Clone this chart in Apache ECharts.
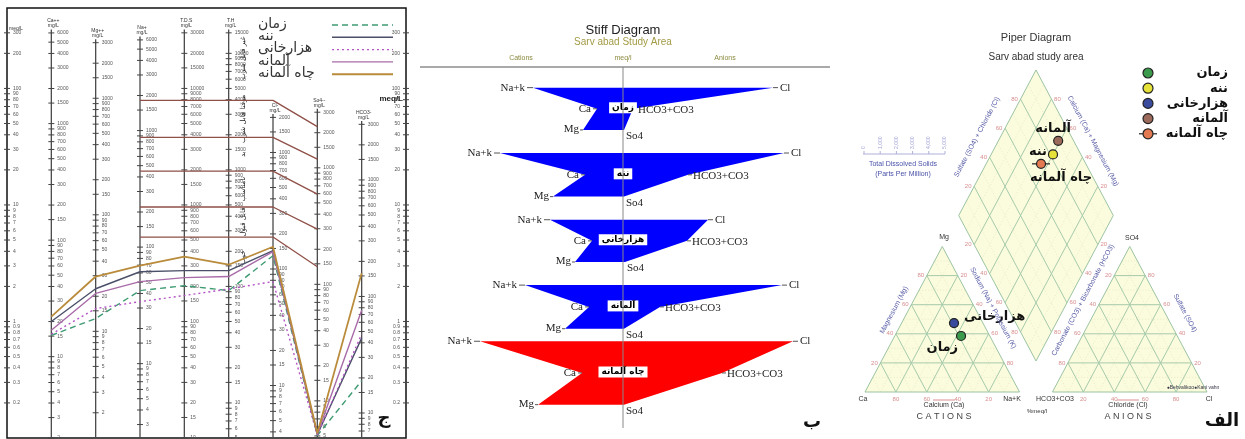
<!DOCTYPE html>
<html>
<head>
<meta charset="utf-8">
<script src="https://cdn.jsdelivr.net/npm/echarts@6.0.0/dist/echarts.min.js"></script>
<style>
html, body { margin: 0; padding: 0; background: #fff; }
#chart { width: 1245px; height: 439px; }
</style>
</head>
<body>
<div id="chart"></div>
<script>
var samples = ['زمان', 'ننه', 'هزارخانی', 'آلمانه', 'چاه آلمانه']

// ج : Schoeller diagram, meq/L read at each column
var schCols = ['Ca', 'Mg', 'Na', 'T.D.S', 'T.H', 'Cl', 'So4', 'HCO3']
var schZaman   = [0.76, 1.06, 1.84, 2.03, 1.84, 3.67, 0.105, 0.31]
var schNaneh   = [1.00, 1.91, 2.67, 2.73, 2.73, 4.05, 0.107, 0.72]
var schHezar   = [0.78, 1.29, 1.48, 1.67, 1.90, 2.20, 0.106, 0.78]
var schAlmaneh = [0.84, 1.74, 2.20, 2.38, 2.43, 3.98, 0.108, 1.25]
var schChah    = [1.10, 2.43, 3.01, 3.60, 3.07, 4.38, 0.110, 2.60]
var schHeads = ['Ca++', 'Mg++', 'Na+', 'T.D.S', 'T.H', 'Cl-', 'So4--', 'HCO3-']
var schFactor = [20.04, 12.15, 23, 100, 50, 35.45, 48, 61]  // mg/L per meq/L
var schTickMin = [2, 2, 3, 10, 5, 4, 5, 7]
var schTickMax = [6000, 3000, 6000, 30000, 15000, 2000, 3000, 3000]
var meqTicks = [0.2, 0.3, 0.4, 0.5, 0.6, 0.7, 0.8, 0.9, 1, 2, 3, 4, 5, 6, 7, 8, 9, 10,
  20, 30, 40, 50, 60, 70, 80, 90, 100, 200, 300]
var mgMantissa = [1, 1.5, 2, 3, 4, 5, 6, 7, 8, 9]
// drinking water class limits, meq/L (Na..Cl, then So4)
var classLeft = [79, 38, 19.5, 9.6, 5.3]
var classRight = [47, 24.7, 12.4, 6.2, 2.95]
var classNames = ['غیر قابل شرب', 'موقتا قابل شرب', 'بد', 'نامناسب', 'قابل قبول', 'خوب']

// ب : Stiff diagram
var stiffNaK  = [9.0, 12.3, 7.3, 9.8, 14.3]
var stiffCa   = [2.6, 3.8, 3.1, 3.4, 4.1]
var stiffMg   = [4.0, 7.0, 4.8, 5.8, 8.5]
var stiffCl   = [15.0, 16.1, 8.5, 15.9, 17.0]
var stiffHCO3 = [1.0, 6.5, 6.4, 3.7, 9.9]
var stiffSO4  = [0.1, 0.1, 0.2, 0.1, 0.1]

// الف : Piper diagram, %meq
var piperTicks = [20, 40, 60, 80]
var pipCatNames = ['زمان', 'هزارخانی']
var pipCa  = [18.6, 18.7]
var pipMg  = [38.5, 47.4]
var pipNaK = [42.9, 33.9]
var pipDmNames = ['ننه', 'آلمانه', 'چاه آلمانه']
var pipDmNaK   = [40.0, 38.7, 35.5]
var pipDmSO4Cl = [82, 90, 71]

var SANS = 'Liberation Sans', FA = 'DejaVu Sans', SERIF = 'Liberation Serif'
var schColors = ['#3f9b73', '#4b5068', '#b455c6', '#a86ba8', '#b98b3b']
var schDash = [[6, 4], 'solid', [2, 3], 'solid', 'solid']
var pipColors = { 'زمان': '#3c9a4c', 'ننه': '#e6e23a', 'هزارخانی': '#3a4a9c', 'آلمانه': '#9c6a5a', 'چاه آلمانه': '#e47a52' }

var chart = echarts.init(document.getElementById('chart'))

// ---------- Schoeller pieces ----------
var schTicks = []
meqTicks.forEach(function (v) {
  schTicks.push({ col: 0, meq: v, text: String(v), side: 1 })
  schTicks.push({ col: 9, meq: v, text: String(v), side: -1 })
})
schFactor.forEach(function (f, i) {
  for (var d = 0; d <= 4; d++) {
    mgMantissa.forEach(function (m) {
      var t = Math.round(m * Math.pow(10, d) * 10) / 10
      if (t >= schTickMin[i] && t <= schTickMax[i]) schTicks.push({ col: i + 1, meq: t / f, text: String(t), side: 1 })
    })
  }
})

function tickRender(params, api) {
  var t = schTicks[params.dataIndex]
  var p = api.coord([t.col, t.meq])
  return { type: 'group', children: [
    { type: 'line', shape: { x1: p[0] - 3, y1: p[1], x2: p[0] + 3, y2: p[1] }, style: { stroke: '#444', lineWidth: 1 } },
    { type: 'text', x: p[0] + 6 * t.side, y: p[1], style: { text: t.text, fontSize: 5, fontFamily: SANS, fill: '#555',
      align: t.side > 0 ? 'left' : 'right', verticalAlign: 'middle' } }
  ] }
}

function columnRender(params, api) {
  var i = params.dataIndex
  var top = schTickMax[i] / schFactor[i] * 1.07
  var p0 = api.coord([i + 1, 0.1]), p1 = api.coord([i + 1, top])
  return { type: 'group', children: [
    { type: 'line', shape: { x1: p0[0], y1: p0[1], x2: p1[0], y2: p1[1] }, style: { stroke: '#4a4a4a', lineWidth: 1.3 } },
    { type: 'text', x: p1[0] + 2, y: p1[1] - 1, style: { text: schHeads[i] + '\nmg/L', fontSize: 5, lineHeight: 5,
      fontFamily: SANS, fill: '#333', align: 'center', verticalAlign: 'bottom' } }
  ] }
}

var classMid = []
classNames.forEach(function (n, i) {
  if (i === 0) classMid.push(classLeft[0] * 2.3)
  else if (i === classNames.length - 1) classMid.push(classLeft[i - 1] / 1.5)
  else classMid.push(Math.sqrt(classLeft[i - 1] * classLeft[i]))
})
function zoneRender(params, api) {
  var i = params.dataIndex
  var p = api.coord([5.33, classMid[i]])
  return { type: 'text', x: p[0], y: p[1], rotation: Math.PI / 2,
    style: { text: classNames[i], fontSize: 7, fontFamily: FA, fill: '#222', align: 'center', verticalAlign: 'middle' } }
}

var series = []
series.push({ type: 'custom', xAxisIndex: 0, yAxisIndex: 0, renderItem: columnRender, silent: true,
  data: schCols.map(function (c, i) { return [i + 1, 1] }) })
series.push({ type: 'custom', xAxisIndex: 0, yAxisIndex: 0, renderItem: tickRender, silent: true,
  data: schTicks.map(function (t) { return [t.col, t.meq] }) })
series.push({ type: 'custom', xAxisIndex: 0, yAxisIndex: 0, renderItem: zoneRender, silent: true,
  data: classNames.map(function (n, i) { return [5.33, classMid[i]] }) })
classLeft.forEach(function (v, i) {
  series.push({ type: 'line', xAxisIndex: 0, yAxisIndex: 0, symbol: 'none', silent: true, z: 3,
    lineStyle: { color: '#8f5048', width: 1.3 }, data: [[3, v], [6, v], [7, classRight[i]]] })
})
var schValues = [schZaman, schNaneh, schHezar, schAlmaneh, schChah]
samples.forEach(function (name, k) {
  series.push({ name: name, type: 'line', xAxisIndex: 0, yAxisIndex: 0, symbol: 'none', z: 5,
    lineStyle: { color: schColors[k], width: k === 4 ? 1.8 : 1.4, type: schDash[k] },
    data: schValues[k].map(function (v, i) { return [i + 1, v] }) })
})

// ---------- Stiff ----------
var stiffHalf = [0.32, 0.33, 0.32, 0.33, 0.48]
function stiffRender(params, api) {
  var i = params.dataIndex, hh = stiffHalf[i]
  function c(x, y) { return api.coord([x, y]) }
  var pNa = c(-stiffNaK[i], i - hh), pCl = c(stiffCl[i], i - hh)
  var pH = c(stiffHCO3[i], i), pCa = c(-stiffCa[i], i)
  var pS = c(stiffSO4[i], i + hh), pMg = c(-stiffMg[i], i + hh)
  var pC = c(0, i)
  function t(p, dx, dy, s, align) {
    return { type: 'text', x: p[0] + dx, y: p[1] + dy, style: { text: s, fontSize: 11, fontFamily: SERIF, fill: '#222', align: align, verticalAlign: 'middle' } }
  }
  function dash(p, dx) { return { type: 'line', shape: { x1: p[0], y1: p[1], x2: p[0] + dx, y2: p[1] }, style: { stroke: '#555', lineWidth: 1 } } }
  return { type: 'group', children: [
    { type: 'polygon', shape: { points: [pNa, pCl, pH, pS, pMg, pCa] }, style: { fill: i === 4 ? '#ff0000' : '#0000ff' } },
    dash(pNa, -6), dash(pCl, 5), dash(pCa, -4), dash(pH, 4), dash(pMg, -3),
    t(pNa, -8, 0, 'Na+k', 'right'), t(pCl, 7, 0, 'Cl', 'left'), t(pCa, -6, 0, 'Ca', 'right'),
    t(pH, 5, 1, 'HCO3+CO3', 'left'), t(pMg, -4, -1, 'Mg', 'right'), t(pS, 2, 6, 'So4', 'left'),
    { type: 'text', x: pC[0], y: pC[1] - 1, style: { text: samples[i], fontSize: 9, fontWeight: 'bold', fontFamily: FA, fill: '#000',
      backgroundColor: '#fff', padding: [1, 3], align: 'center', verticalAlign: 'middle' } }
  ] }
}
series.push({ type: 'custom', xAxisIndex: 1, yAxisIndex: 1, renderItem: stiffRender, silent: true,
  data: samples.map(function (n, i) { return [0, i] }) })

// ---------- Piper ----------
var H = Math.sqrt(3) / 2, GAP = 0.213
function catXY(ca, mg, nak) { return [nak + mg / 2, mg * H] }
function anXY(hco3, so4, cl) { return [1 + GAP + cl + so4 / 2, so4 * H] }
function dmXY(nak, so4cl) { var a = 1 - nak; return [1 + GAP / 2 + (so4cl - a) / 2, GAP * H + (a + so4cl) * H] }

var FILL = '#fbfbdd', GRID = '#a6cbab', MINOR = '#e2e8c2', RED = '#d98e8e'
var pipShapes = []
var tris = [
  [catXY(1, 0, 0), catXY(0, 0, 1), catXY(0, 1, 0)],
  [anXY(1, 0, 0), anXY(0, 0, 1), anXY(0, 1, 0)],
  [dmXY(1, 0), dmXY(1, 1), dmXY(0, 1), dmXY(0, 0)]
]
tris.forEach(function (p) { pipShapes.push({ kind: 'poly', pts: p, fill: FILL }) })
function addGrid(f, color, dash, lw) {
  var segs = [
    [catXY(1 - f, f, 0), catXY(0, f, 1 - f)], [catXY(f, 0, 1 - f), catXY(f, 1 - f, 0)], [catXY(1 - f, 0, f), catXY(0, 1 - f, f)],
    [anXY(1 - f, f, 0), anXY(0, f, 1 - f)], [anXY(f, 0, 1 - f), anXY(f, 1 - f, 0)], [anXY(1 - f, 0, f), anXY(0, 1 - f, f)],
    [dmXY(f, 0), dmXY(f, 1)], [dmXY(0, f), dmXY(1, f)]
  ]
  segs.forEach(function (s) { pipShapes.push({ kind: 'line', pts: s, stroke: color, lw: lw, dash: dash }) })
}
[0.1, 0.3, 0.5, 0.7, 0.9].forEach(function (f) { addGrid(f, MINOR, [1, 2], 0.8) })
piperTicks.forEach(function (t) { addGrid(t / 100, GRID, null, 1) })
tris.forEach(function (p) { pipShapes.push({ kind: 'line', pts: p.concat([p[0]]), stroke: '#9cc4a2', lw: 1 }) })
piperTicks.forEach(function (t) {
  var f = t / 100, s = String(t)
  var lab = [
    [catXY(f, 0, 1 - f), 0, 7], [catXY(1 - f, f, 0), -6, 0], [catXY(0, 1 - f, f), 6, 0],
    [anXY(1 - f, 0, f), 0, 7], [anXY(f, 1 - f, 0), -6, 0], [anXY(0, f, 1 - f), 6, 0],
    [dmXY(0, f), -6, 0], [dmXY(1 - f, 1), 6, 0], [dmXY(f, 0), -6, 0], [dmXY(1, 1 - f), 6, 0]
  ]
  lab.forEach(function (l) { pipShapes.push({ kind: 'text', pts: [l[0]], dx: l[1], dy: l[2], text: s }) })
})
function pipRender(params, api) {
  var s = pipShapes[params.dataIndex]
  var pts = s.pts.map(function (p) { return api.coord(p) })
  if (s.kind === 'poly') return { type: 'polygon', shape: { points: pts }, style: { fill: s.fill } }
  if (s.kind === 'line') return { type: 'polyline', shape: { points: pts }, style: { stroke: s.stroke, lineWidth: s.lw, lineDash: s.dash, fill: null } }
  return { type: 'text', x: pts[0][0] + s.dx, y: pts[0][1] + s.dy,
    style: { text: s.text, fontSize: 6, fontFamily: SANS, fill: RED, align: 'center', verticalAlign: 'middle' } }
}
series.push({ type: 'custom', xAxisIndex: 2, yAxisIndex: 2, renderItem: pipRender, silent: true,
  data: pipShapes.map(function (s) { return s.pts[0] }) })

var pipPts = []
pipCatNames.forEach(function (n, i) { pipPts.push({ name: n, xy: catXY(pipCa[i] / 100, pipMg[i] / 100, pipNaK[i] / 100) }) })
pipDmNames.forEach(function (n, i) { pipPts.push({ name: n, xy: dmXY(pipDmNaK[i] / 100, pipDmSO4Cl[i] / 100) }) })
var pipLabelPos = { 'زمان': [-3, 12, 'right'], 'هزارخانی': [10, -6, 'left'], 'ننه': [-6, -3, 'right'],
  'آلمانه': [-5, -12, 'center'], 'چاه آلمانه': [20, 14, 'center'] }
function pipPtRender(params, api) {
  var d = pipPts[params.dataIndex], p = api.coord(d.xy), lp = pipLabelPos[d.name]
  var ch = []
  if (d.name === 'چاه آلمانه') ch.push({ type: 'line', shape: { x1: p[0] - 9, y1: p[1], x2: p[0] + 9, y2: p[1] }, style: { stroke: '#222', lineWidth: 1.2 } })
  ch.push({ type: 'circle', shape: { cx: p[0], cy: p[1], r: 4.5 }, style: { fill: pipColors[d.name], stroke: '#222', lineWidth: 1.2 } })
  ch.push({ type: 'text', x: p[0] + lp[0], y: p[1] + lp[1], style: { text: d.name, fontSize: 13, fontWeight: 'bold', fontFamily: FA,
    fill: '#111', align: lp[2], verticalAlign: 'middle' } })
  return { type: 'group', children: ch }
}
series.push({ type: 'custom', xAxisIndex: 2, yAxisIndex: 2, renderItem: pipPtRender, silent: true, z: 10,
  data: pipPts.map(function (d) { return d.xy }) })

// ---------- static texts ----------
function txt(x, y, s, size, color, o) {
  o = o || {}
  return { type: 'text', x: x, y: y, rotation: o.rot || 0, z: 20, silent: true,
    style: { text: s, fontSize: size, fontWeight: o.bold ? 'bold' : 'normal', fontFamily: o.family || SANS, fill: color,
      align: o.align || 'center', verticalAlign: o.va || 'middle' } }
}
function seg(x1, y1, x2, y2, color, w, dash) {
  return { type: 'line', z: 20, silent: true, shape: { x1: x1, y1: y1, x2: x2, y2: y2 }, style: { stroke: color, lineWidth: w || 1, lineDash: dash || null } }
}
var R62 = 62 * Math.PI / 180
var TITLE = '#5a5ea6'
var graphic = [
  txt(9, 29, 'meq/L', 5, '#333', { align: 'left' }),
  txt(403, 99, 'meq/L', 8, '#222', { align: 'right', bold: true }),
  txt(384, 418, 'ج', 18, '#111', { bold: true, family: FA }),

  txt(623, 30, 'Stiff Diagram', 13, '#222'),
  txt(623, 42, 'Sarv abad Study Area', 10, '#a39b45'),
  txt(521, 58, 'Cations', 7, '#8c8a40'), txt(623, 58, 'meq/l', 7, '#8c8a40'), txt(725, 58, 'Anions', 7, '#8c8a40'),
  seg(420, 67, 830, 67, '#555', 1), seg(623, 67, 623, 428, '#888', 1),
  txt(812, 422, 'ب', 18, '#111', { bold: true, family: FA }),

  txt(1036, 38, 'Piper Diagram', 11, '#333'),
  txt(1036, 57, 'Sarv abad study area', 10, '#333'),
  txt(894, 310, 'Magnesium (Mg)', 7, TITLE, { rot: R62 }),
  txt(993, 308, 'Sodium (Na) + Potassium (K)', 7, TITLE, { rot: -R62 }),
  txt(1083, 300, 'Carbonate (CO3) + Bicarbonate (HCO3)', 7, TITLE, { rot: R62 }),
  txt(1185, 313, 'Sulfate (SO4)', 7, TITLE, { rot: -R62 }),
  txt(977, 137, 'Sulfate (SO4) + Chloride (Cl)', 7, TITLE, { rot: R62 }),
  txt(1093, 141, 'Calcium (Ca) + Magnesium (Mg)', 7, TITLE, { rot: -R62 }),
  txt(944, 405, 'Calcium (Ca)', 7, '#333'), txt(944, 417, 'C A T I O N S', 9, '#444'),
  txt(1037, 411, '%meq/l', 6, '#333'),
  txt(1128, 405, 'Chloride (Cl)', 7, '#333'), txt(1128, 417, 'A N I O N S', 9, '#444'),
  seg(933, 400, 955, 400, '#d99090', 1), seg(1117, 400, 1139, 400, '#d99090', 1),
  txt(944, 237, 'Mg', 7, '#333'), txt(863, 399, 'Ca', 7, '#333'), txt(1012, 399, 'Na+K', 7, '#333'),
  txt(1055, 399, 'HCO3+CO3', 7, '#333'), txt(1132, 238, 'SO4', 7, '#333'), txt(1209, 399, 'Cl', 7, '#333'),
  txt(1193, 388, '●Behvalikoo●Kani vahn', 5, '#334', {}),
  seg(863, 154, 945, 154, '#b0b0d8', 1),
  txt(903, 164, 'Total Dissolved Solids', 7, '#4a52a8'), txt(903, 174, '(Parts Per Million)', 7, '#4a52a8'),
  txt(1222, 421, 'الف', 18, '#111', { bold: true, family: FA })
]
;['0', '1,000', '2,000', '3,000', '4,000', '5,000'].forEach(function (s, i) {
  var x = 864 + i * 16.2
  graphic.push(seg(x, 151, x, 154, '#b0b0d8', 1))
  graphic.push(txt(x, 149, s, 5, '#a0a0d8', { rot: Math.PI / 2, align: 'left' }))
})
// Schoeller legend (text left, line sample right)
samples.forEach(function (n, i) {
  var y = 25 + i * 12.3
  graphic.push(txt(258, y - 1, n, 14, '#333', { family: FA, align: 'left' }))
  var d = schDash[i] === 'solid' ? null : schDash[i]
  graphic.push(seg(332, y, 393, y, schColors[i], i === 4 ? 2 : 1.4, d))
})
// Piper legend
samples.forEach(function (n, i) {
  var y = 73 + i * 15.2
  if (i === 4) graphic.push(seg(1139, y, 1157, y, '#222', 1.2))
  graphic.push({ type: 'circle', z: 21, silent: true, shape: { cx: 1148, cy: y, r: 5 }, style: { fill: pipColors[n], stroke: '#222', lineWidth: 1.2 } })
  graphic.push(txt(1228, y, n, 13, '#111', { bold: true, family: FA, align: 'right' }))
})

chart.setOption({
  animation: false,
  backgroundColor: '#fff',
  grid: [
    { left: 7, top: 8, width: 399, height: 430, show: true, borderColor: '#111', borderWidth: 1.5, backgroundColor: 'transparent' },
    { left: 420, top: 75.75, width: 406, height: 376.75 },
    { left: 865, top: 70, width: 342, height: 322 }
  ],
  xAxis: [
    { type: 'value', gridIndex: 0, min: 0, max: 9, show: false },
    { type: 'value', gridIndex: 1, min: -20.3, max: 20.3, show: false },
    { type: 'value', gridIndex: 2, min: 0, max: 2 + GAP, show: false }
  ],
  yAxis: [
    { type: 'log', logBase: 10, gridIndex: 0, min: 0.1, max: 490, show: false },
    { type: 'value', gridIndex: 1, min: -0.5, max: 5, inverse: true, show: false },
    { type: 'value', gridIndex: 2, min: 0, max: (2 + GAP) * H, show: false }
  ],
  graphic: graphic,
  series: series
})
</script>
</body>
</html>
